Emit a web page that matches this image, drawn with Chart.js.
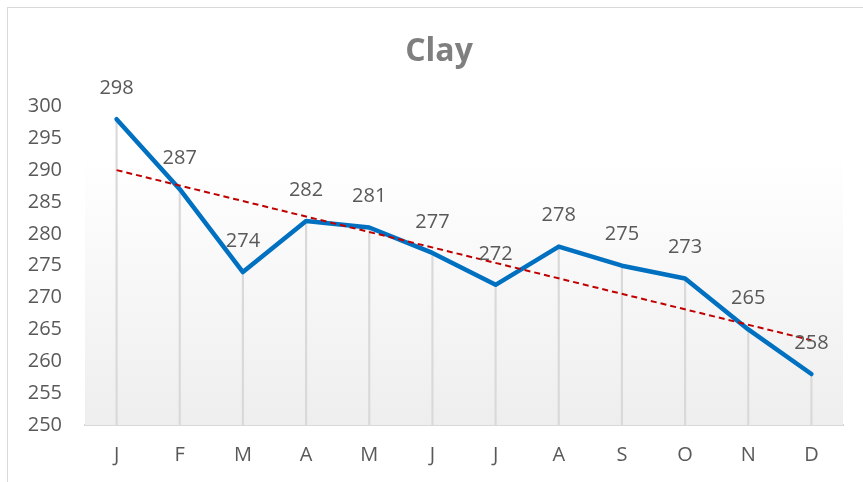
<!DOCTYPE html>
<html>
<head>
<meta charset="utf-8">
<script src="https://cdn.jsdelivr.net/npm/chart.js@4.4.1/dist/chart.umd.min.js"></script>
<style>
    body { margin: 0; background: #fff; overflow: hidden; width: 863px; height: 482px; }
    #frame { position: absolute; left: 7px; top: 7px; width: 900px; height: 520px; border-left: 1px solid #d9d9d9; border-top: 1px solid #d9d9d9; }
    #wrap { position: absolute; left: 8px; top: 8px; width: 862px; height: 482px; }
</style>
</head>
<body>
<div id="frame"></div>
<div id="wrap"><canvas id="chart"></canvas></div>
<script>
"use strict";

const months = ["J", "F", "M", "A", "M", "J", "J", "A", "S", "O", "N", "D"];
const clayValues = [298, 287, 274, 282, 281, 277, 272, 278, 275, 273, 265, 258];
// linear trendline, ends
const trendStart = 290.0;
const trendEnd = 263.3;
const yTicks = [250, 255, 260, 265, 270, 275, 280, 285, 290, 295, 300];

let trendData = months.map((m, i) => i === 0 ? trendStart : (i === months.length - 1 ? trendEnd : null));

const plotBackground = {
    id: "plotBackground",
    beforeDatasetsDraw(chart) {
        const {ctx, chartArea} = chart;
        let g = ctx.createLinearGradient(0, chartArea.top, 0, chartArea.bottom);
        g.addColorStop(0, "#ffffff");
        g.addColorStop(0.15, "#ffffff");
        g.addColorStop(1, "#eeeeee");
        ctx.save();
        ctx.fillStyle = g;
        ctx.fillRect(chartArea.left, chartArea.top, chartArea.right - chartArea.left, chartArea.bottom - chartArea.top);
        ctx.restore();
    }
};

const valueLabels = {
    id: "valueLabels",
    afterDatasetsDraw(chart) {
        const {ctx} = chart;
        let meta = chart.getDatasetMeta(1);
        ctx.save();
        ctx.font = "20px 'Open Sans'";
        ctx.fillStyle = "#595959";
        ctx.textAlign = "center";
        ctx.textBaseline = "middle";
        meta.data.forEach((pt, i) => {
            ctx.fillText(String(clayValues[i]), pt.x, pt.y - 31);
        });
        ctx.restore();
    }
};

let ctx = document.getElementById("chart").getContext("2d");
let myChart = new Chart(ctx, {
    type: "line",
    data: {
        labels: months,
        datasets: [{
            type: "bar",
            label: "drop",
            data: clayValues,
            backgroundColor: "#d9d9d9",
            barThickness: 1.5,
            order: 3
        }, {
            label: "Clay",
            data: clayValues,
            borderColor: "#0070c0",
            borderWidth: 4.5,
            pointRadius: 0,
            tension: 0,
            borderCapStyle: "round",
            borderJoinStyle: "round",
            order: 2
        }, {
            label: "Linear (Clay)",
            data: trendData,
            spanGaps: true,
            borderColor: "#c00000",
            borderWidth: 2,
            borderDash: [6, 4],
            pointRadius: 0,
            order: 1
        }]
    },
    options: {
        responsive: true,
        maintainAspectRatio: false,
        animation: false,
        layout: { padding: 0 },
        plugins: {
            legend: { display: false },
            tooltip: { enabled: false },
            title: {
                display: true,
                text: "Clay",
                color: "#7f7f7f",
                font: { family: "'Open Sans'", size: 32, weight: "bold", lineHeight: 1.2 },
                padding: { top: 25, bottom: 35 }
            }
        },
        scales: {
            x: {
                offset: true,
                grid: { display: false, drawTicks: false },
                border: { display: true, color: "#d9d9d9", width: 2 },
                ticks: {
                    color: "#595959",
                    font: { family: "'Open Sans'", size: 20 },
                    padding: 18,
                    maxRotation: 0
                },
                afterFit(scale) { scale.height = 65; }
            },
            y: {
                min: 250,
                max: 300,
                afterBuildTicks(scale) { scale.ticks = yTicks.map(v => ({value: v})); },
                grid: { display: false, drawTicks: false },
                border: { display: false },
                ticks: {
                    color: "#595959",
                    font: { family: "'Open Sans'", size: 20 },
                    padding: 23
                },
                afterFit(scale) { scale.width = 77; }
            },
            // empty right margin so the title stays centred on the whole frame
            yRight: {
                type: "linear",
                position: "right",
                grid: { display: false, drawTicks: false },
                border: { display: false },
                ticks: { display: false },
                afterFit(scale) { scale.width = 27; }
            }
        }
    },
    plugins: [plotBackground, valueLabels]
});
</script>
</body>
</html>
